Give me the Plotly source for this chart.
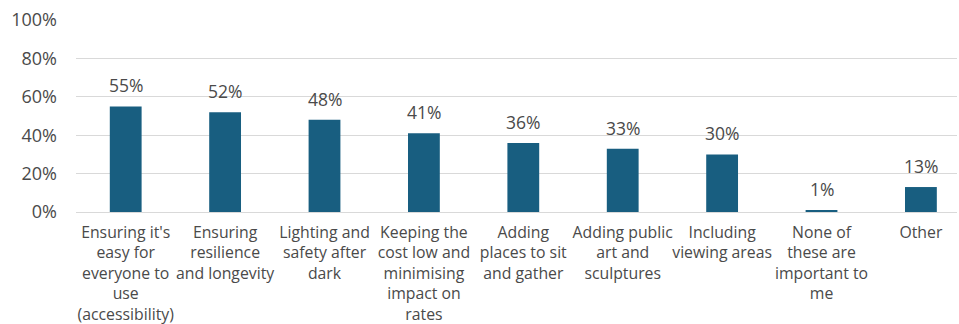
import plotly.graph_objects as go

categories = [
    "Ensuring it's<br>easy for<br>everyone to<br>use<br>(accessibility)",
    "Ensuring<br>resilience<br>and longevity",
    "Lighting and<br>safety after<br>dark",
    "Keeping the<br>cost low and<br>minimising<br>impact on<br>rates",
    "Adding<br>places to sit<br>and gather",
    "Adding public<br>art and<br>sculptures",
    "Including<br>viewing areas",
    "None of<br>these are<br>important to<br>me",
    "Other",
]
values = [0.55, 0.52, 0.48, 0.41, 0.36, 0.33, 0.30, 0.01, 0.13]
y_ticks = [0, 0.2, 0.4, 0.6, 0.8, 1.0]
y_tick_labels = ["0%", "20%", "40%", "60%", "80%", "100%"]

BAR = "#185E80"
TEXT = "#4A4A4A"
FONT = "Open Sans, Lato, sans-serif"

xs = list(range(len(categories)))

fig = go.Figure(
    go.Bar(
        x=xs,
        y=values,
        width=0.32,
        marker=dict(color=BAR, line=dict(width=0)),
    )
)

# value labels sitting above each bar
for x, v in zip(xs, values):
    fig.add_annotation(
        x=x, y=v, text=f"{v:.0%}",
        showarrow=False, yanchor="bottom", yshift=7,
        font=dict(size=17.5, color=TEXT, family=FONT),
    )

fig.update_layout(
    width=959,
    height=324,
    margin=dict(l=76, r=2, t=20, b=112),
    plot_bgcolor="white",
    paper_bgcolor="white",
    showlegend=False,
    font=dict(family=FONT, color=TEXT),
)

fig.update_xaxes(
    tickmode="array",
    tickvals=xs,
    ticktext=categories,
    range=[-0.5, 8.363],
    tickfont=dict(size=15.8, color=TEXT, family=FONT),
    tickangle=0,
    showgrid=False,
    showline=False,
    zeroline=False,
    ticks="",
    ticklabelstandoff=9,
    automargin=False,
)

fig.update_yaxes(
    range=[0, 1.0],
    tickmode="array",
    tickvals=y_ticks,
    ticktext=y_tick_labels,
    tickfont=dict(size=18, color=TEXT, family=FONT),
    showgrid=True,
    gridcolor="#D9D9D9",
    gridwidth=1.3,
    zeroline=True,
    zerolinecolor="#D9D9D9",
    zerolinewidth=1.3,
    showline=False,
    ticks="",
    ticklabelstandoff=18,
    automargin=False,
)

fig.write_html("out.html")
